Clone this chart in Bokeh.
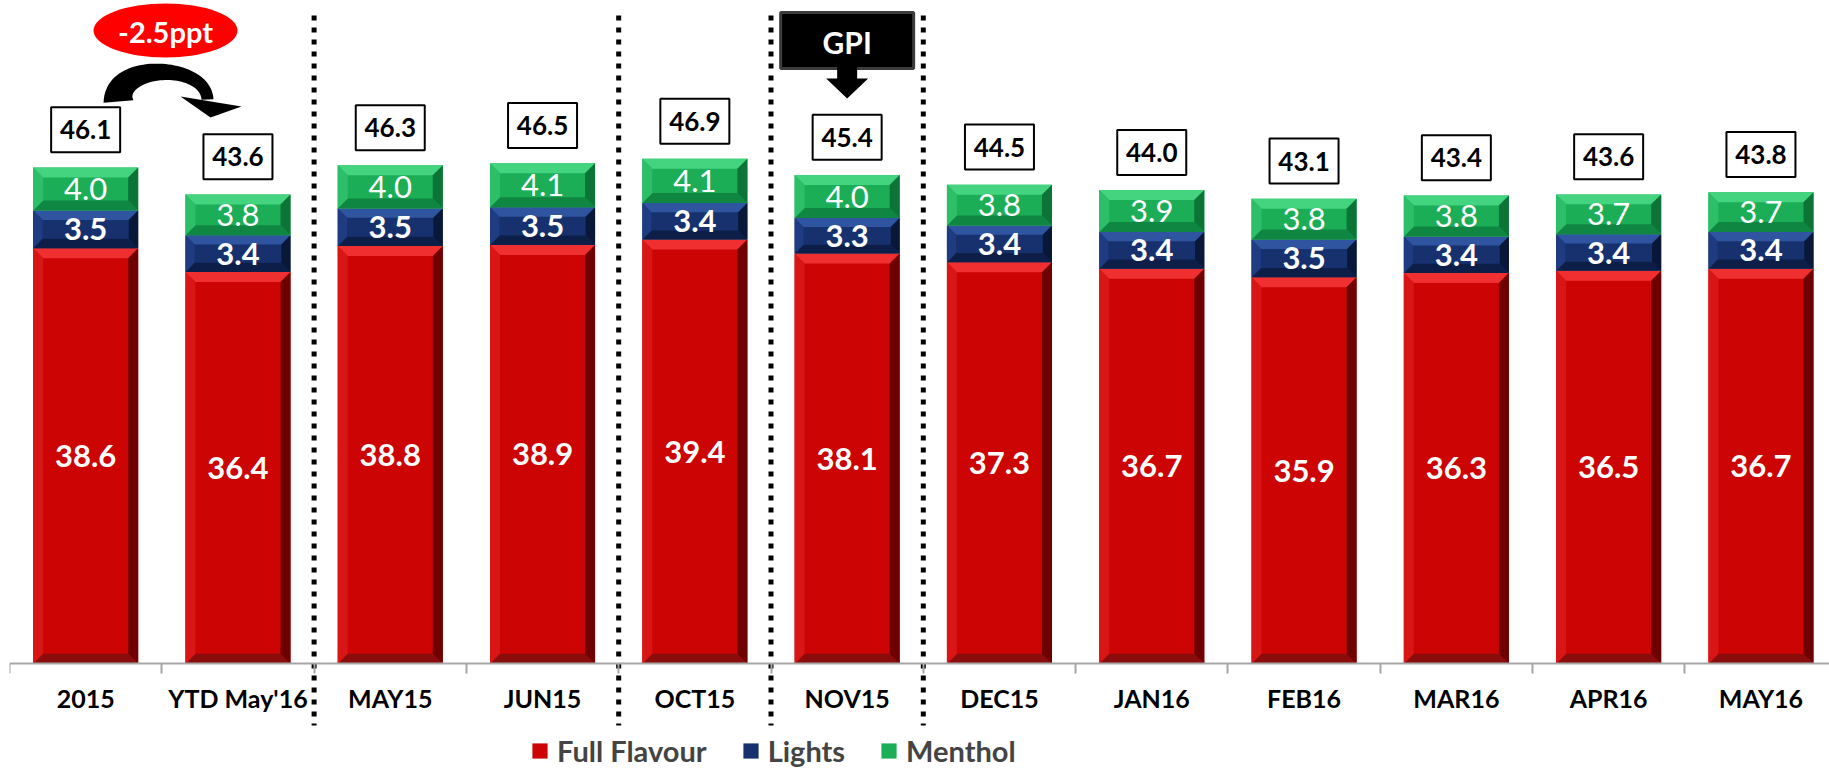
import numpy as np
from bokeh.plotting import figure
from bokeh.models import FixedTicker, LinearAxis, Range1d, Legend, LegendItem
from bokeh.core.properties import value
from bokeh.embed import file_html
from bokeh.resources import INLINE

# ---------------- data ----------------
categories = ["2015", "YTD May'16", "MAY15", "JUN15", "OCT15", "NOV15",
              "DEC15", "JAN16", "FEB16", "MAR16", "APR16", "MAY16"]
full_flavour = [38.6, 36.4, 38.8, 38.9, 39.4, 38.1, 37.3, 36.7, 35.9, 36.3, 36.5, 36.7]
lights = [3.5, 3.4, 3.5, 3.5, 3.4, 3.3, 3.4, 3.4, 3.5, 3.4, 3.4, 3.4]
menthol = [4.0, 3.8, 4.0, 4.1, 4.1, 4.0, 3.8, 3.9, 3.8, 3.8, 3.7, 3.7]
totals = [46.1, 43.6, 46.3, 46.5, 46.9, 45.4, 44.5, 44.0, 43.1, 43.4, 43.6, 43.8]
series_names = ["Full Flavour", "Lights", "Menthol"]
divider_after = [1, 3, 4, 5]
change_label = "-2.5ppt"
event_label = "GPI"
event_index = 5

# ---------------- layout ----------------
W, H = 1829, 769
BORDER_L = 9
CAT_PX = 152.3
PPU = 10.766
ZERO_Y = 663.3
FONT = "Lato"
n = len(categories)
x_start = -0.5
x_end = x_start + (W - BORDER_L) / CAT_PX
y_end = ZERO_Y / PPU
y_start = -(H - ZERO_Y) / PPU


def X(px):
    return x_start + (px - BORDER_L) / CAT_PX


def Y(py):
    return (ZERO_Y - py) / PPU


p = figure(width=W, height=H, x_range=Range1d(x_start, x_end), y_range=Range1d(y_start, y_end),
           x_axis_location=None, y_axis_location=None, toolbar_location=None,
           output_backend="svg", min_border_left=BORDER_L, min_border_right=0,
           min_border_top=0, min_border_bottom=0, outline_line_color=None,
           background_fill_color="white", border_fill_color="white")
p.grid.visible = False

# category axis at y = 0
ax = LinearAxis(fixed_location=0,
                ticker=FixedTicker(ticks=list(range(n)), minor_ticks=[i - 0.5 for i in range(n + 1)]))
ax.major_label_overrides = {i: c for i, c in enumerate(categories)}
ax.major_tick_out = 0
ax.major_tick_in = 0
ax.minor_tick_out = 10
ax.minor_tick_in = 0
ax.axis_line_color = "#A6A6A6"
ax.axis_line_width = 2
ax.minor_tick_line_color = "#A6A6A6"
ax.minor_tick_line_width = 2
ax.major_label_text_font = FONT
ax.major_label_text_font_style = "bold"
ax.major_label_text_font_size = "25px"
ax.major_label_text_color = "black"
ax.major_label_standoff = 9
p.add_layout(ax, "below")

# dotted separators
sep_x = [i + 0.5 for i in divider_after]
p.segment(x0=sep_x, y0=[Y(15)] * len(sep_x), x1=sep_x, y1=[Y(725)] * len(sep_x),
          line_color="black", line_width=5, line_dash="5 7", line_cap="butt")

# ---------------- stacked bars with bevel ----------------
colors = {
    "Full Flavour": dict(face="#CC0404", top="#F03030", left="#D81616", right="#6E0000", bottom="#8A0C0C"),
    "Lights": dict(face="#17316E", top="#2F54A0", left="#1F3C82", right="#091738", bottom="#0D1E48"),
    "Menthol": dict(face="#1BAE57", top="#44D47F", left="#2CBF68", right="#0C7436", bottom="#0F8642"),
}
series_vals = [full_flavour, lights, menthol]
hw = 0.345
idx = list(range(n))
bottom = [0.0] * n
renderers = []
label_specs = []
for name, vals in zip(series_names, series_vals):
    top = [b + v for b, v in zip(bottom, vals)]
    c = colors[name]
    r = p.quad(left=[i - hw for i in idx], right=[i + hw for i in idx], bottom=bottom, top=top,
               fill_color=c["face"], line_color=None)
    renderers.append(r)
    xs, ys, fc = [], [], []
    for i in idx:
        L, R, B, T = i - hw, i + hw, bottom[i], top[i]
        bpx = min(10.0, (T - B) * PPU / 4)
        bx, by = bpx / CAT_PX, bpx / PPU
        xs += [[L, R, R - bx, L + bx], [L, R, R - bx, L + bx], [L, L, L + bx, L + bx], [R, R, R - bx, R - bx]]
        ys += [[T, T, T - by, T - by], [B, B, B + by, B + by], [B, T, T - by, B + by], [B, T, T - by, B + by]]
        fc += [c["top"], c["bottom"], c["left"], c["right"]]
    p.patches(xs=xs, ys=ys, fill_color=fc, line_color=None)
    mids = [(b + t) / 2 for b, t in zip(bottom, top)]
    label_specs.append((name, mids, vals))
    bottom = top

for name, mids, vals in label_specs:
    p.text(x=idx, y=mids, text=[f"{v:.1f}" for v in vals], text_color="white",
           text_font=value(FONT), text_font_style="normal" if name == "Menthol" else "bold",
           text_font_size="31px", text_align="center", text_baseline="middle")

# totals in boxes
box_y = [t + 3.5 for t in bottom]
p.rect(x=idx, y=box_y, width=69, height=45, width_units="screen", height_units="screen",
       fill_color="white", line_color="black", line_width=2)
p.text(x=idx, y=box_y, text=[f"{t:.1f}" for t in totals], text_color="black",
       text_font=value(FONT), text_font_style="bold", text_font_size="26px",
       text_align="center", text_baseline="middle")

# ---------------- annotations ----------------
# change bubble
p.ellipse(x=[X(165)], y=[Y(30)], width=144, height=54, width_units="screen", height_units="screen",
          fill_color="#FF0000", line_color=None)
p.text(x=[X(165)], y=[Y(31)], text=[change_label], text_color="white", text_font=value(FONT),
       text_font_style="bold", text_font_size="29px", text_align="center", text_baseline="middle")

# curved arrow
A = np.array([118.0, 101.0]); C1 = np.array([115.0, 62.0]); C2 = np.array([205.0, 62.0]); B = np.array([207.0, 99.0])
ts = np.linspace(0, 1, 50)
pts = np.array([(1 - t) ** 3 * A + 3 * (1 - t) ** 2 * t * C1 + 3 * (1 - t) * t ** 2 * C2 + t ** 3 * B for t in ts])
der = np.array([3 * (1 - t) ** 2 * (C1 - A) + 6 * (1 - t) * t * (C2 - C1) + 3 * t ** 2 * (B - C2) for t in ts])
nrm = np.stack([-der[:, 1], der[:, 0]], axis=1)
nrm = nrm / np.linalg.norm(nrm, axis=1)[:, None]
half = 6 + 9 * (1 - ts) ** 2
side1 = pts + nrm * half[:, None]
side2 = pts - nrm * half[:, None]
poly = np.vstack([side1, side2[::-1]])
p.patch(x=[X(v) for v in poly[:, 0]], y=[Y(v) for v in poly[:, 1]], fill_color="black", line_color=None)
head = [(180, 96), (241, 106), (210, 117)]
p.patch(x=[X(a) for a, b in head], y=[Y(b) for a, b in head], fill_color="black", line_color=None)

# event box
p.rect(x=[event_index], y=[Y(40)], width=133, height=56, width_units="screen", height_units="screen",
       fill_color="black", line_color="#3C3C3C", line_width=3)
p.text(x=[event_index], y=[Y(41)], text=[event_label], text_color="white", text_font=value(FONT),
       text_font_style="bold", text_font_size="30px", text_align="center", text_baseline="middle")
arrow_pts = [(-10, 66), (10, 66), (10, 78), (21, 78), (0, 98), (-21, 78), (-10, 78)]
p.patch(x=[event_index + a / CAT_PX for a, b in arrow_pts], y=[Y(b) for a, b in arrow_pts],
        fill_color="black", line_color=None)

# legend
legend = Legend(items=[LegendItem(label=nm, renderers=[r]) for nm, r in zip(series_names, renderers)],
                orientation="horizontal", location=(521, 1), border_line_color=None,
                background_fill_alpha=0, label_text_font=FONT, label_text_font_style="bold",
                label_text_font_size="29px", glyph_width=19, glyph_height=19, label_standoff=8,
                spacing=34, padding=0, margin=0)
p.add_layout(legend)

open("out.html", "w").write(file_html(p, INLINE))
